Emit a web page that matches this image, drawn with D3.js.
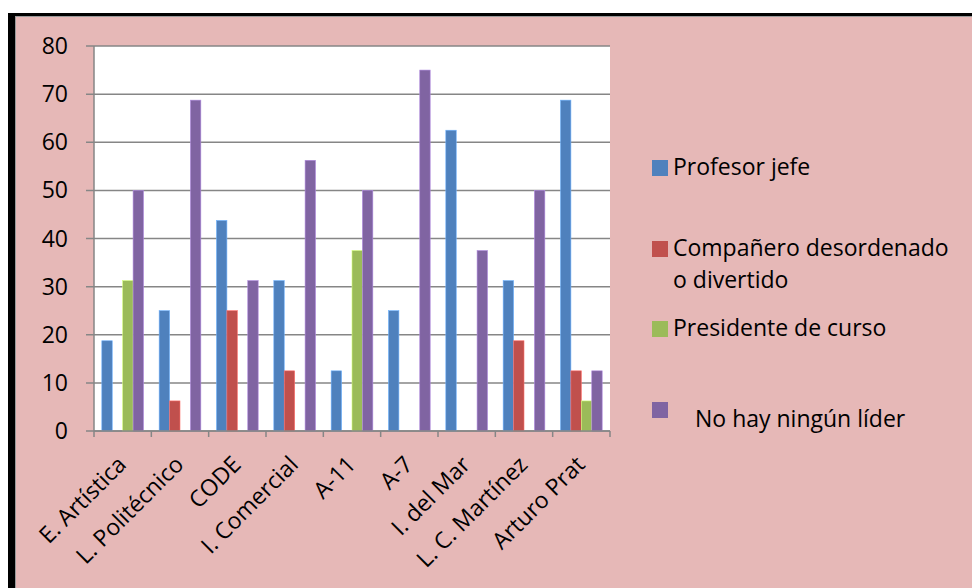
<!DOCTYPE html>
<html>
<head>
<meta charset="utf-8">
<script src="https://cdn.jsdelivr.net/npm/d3@7/dist/d3.min.js"></script>
<style>
  html, body { margin: 0; padding: 0; background: #ffffff; }
  svg { display: block; }
  text { font-family: "Open Sans", "Noto Sans", sans-serif; fill: #000; font-weight: 400; }
</style>
</head>
<body>
<svg id="chart" width="972" height="588"></svg>
<script>
const categories = ["E. Artística", "L. Politécnico", "CODE", "I. Comercial", "A-11", "A-7", "I. del Mar", "L. C. Martínez", "Arturo Prat"];
const seriesNames = ["Profesor jefe", "Compañero desordenado o divertido", "Presidente de curso", "No hay ningún líder"];
const profesorJefe = [18.75, 25, 43.75, 31.25, 12.5, 25, 62.5, 31.25, 68.75];
const companeroDesordenado = [0, 6.25, 25, 12.5, 0, 0, 0, 18.75, 12.5];
const presidenteCurso = [31.25, 0, 0, 0, 37.5, 0, 0, 0, 6.25];
const ningunLider = [50, 68.75, 31.25, 56.25, 50, 75, 37.5, 50, 12.5];
const yTicks = [0, 10, 20, 30, 40, 50, 60, 70, 80];
const colors = ["#4F81BD", "#C0504D", "#9BBB59", "#8064A2"];

const series = [profesorJefe, companeroDesordenado, presidenteCurso, ningunLider];

const svg = d3.select("#chart");
const W = 972, H = 588;
const FS = 23;

// background frame
svg.append("rect").attr("x", 0).attr("y", 0).attr("width", W).attr("height", H).attr("fill", "#ffffff");
svg.append("rect").attr("x", 8).attr("y", 13).attr("width", W - 8).attr("height", H - 13).attr("fill", "#000000");
svg.append("rect").attr("x", 15).attr("y", 16).attr("width", W - 15).attr("height", H - 16).attr("fill", "#9a9a9a");
svg.append("rect").attr("x", 16).attr("y", 17).attr("width", W - 16).attr("height", H - 17).attr("fill", "#E6B8B7");

const plot = { left: 94, top: 46, right: 610, bottom: 431 };

const x0 = d3.scaleBand().domain(categories).range([plot.left, plot.right]).padding(0);
// Excel gap width 150%: 4 bars + 1.5 bar-widths of gap per group
const x1 = d3.scaleBand().domain(d3.range(4)).range([0, x0.bandwidth()]).paddingInner(0).paddingOuter(0.75);
const y = d3.scaleLinear().domain([0, 80]).range([plot.bottom, plot.top]);

// plot area
svg.append("rect").attr("x", plot.left).attr("y", plot.top)
  .attr("width", plot.right - plot.left).attr("height", plot.bottom - plot.top).attr("fill", "#ffffff");

// gridlines
svg.append("g").selectAll("line").data(yTicks).join("line")
  .attr("x1", plot.left - 8).attr("x2", plot.right)
  .attr("y1", d => y(d)).attr("y2", d => y(d))
  .attr("stroke", "#868686").attr("stroke-width", 1.5);

// y axis line
svg.append("line").attr("x1", plot.left).attr("x2", plot.left)
  .attr("y1", plot.top).attr("y2", plot.bottom)
  .attr("stroke", "#868686").attr("stroke-width", 1.5);

// y labels
svg.append("g").selectAll("text").data(yTicks).join("text")
  .attr("x", 68).attr("y", d => y(d))
  .attr("dy", "0.35em")
  .attr("text-anchor", "end")
  .attr("font-size", FS)
  .text(d => d);

// bars
series.forEach((vals, si) => {
  svg.append("g").selectAll("rect").data(vals).join("rect")
    .attr("x", (d, ci) => x0(categories[ci]) + x1(si))
    .attr("y", d => y(d))
    .attr("width", x1.bandwidth())
    .attr("height", d => y(0) - y(d))
    .attr("fill", colors[si])
    .attr("stroke", d3.color(colors[si]).brighter(0.9))
    .attr("stroke-width", d => d > 0 ? 0.6 : 0);
});

// x axis line and ticks
svg.append("line").attr("x1", plot.left).attr("x2", plot.right)
  .attr("y1", plot.bottom).attr("y2", plot.bottom)
  .attr("stroke", "#868686").attr("stroke-width", 1.5);
const xTickPos = categories.map(c => x0(c)).concat([plot.right]);
svg.append("g").selectAll("line").data(xTickPos).join("line")
  .attr("x1", d => d).attr("x2", d => d)
  .attr("y1", plot.bottom).attr("y2", plot.bottom + 6)
  .attr("stroke", "#868686").attr("stroke-width", 1.5);

// x labels
svg.append("g").selectAll("text").data(categories).join("text")
  .attr("transform", c => `translate(${x0(c) + x0.bandwidth() / 2 + 5},${plot.bottom + 35}) rotate(-45)`)
  .attr("text-anchor", "end")
  .attr("font-size", FS)
  .text(c => c);

// legend
const legend = [
  { lines: ["Profesor jefe"], sq: 160, base: [175], tx: 673 },
  { lines: ["Compañero desordenado", "o divertido"], sq: 241, base: [256, 288], tx: 673 },
  { lines: ["Presidente de curso"], sq: 321, base: [336], tx: 673 },
  { lines: ["No hay ningún líder"], sq: 402, base: [427], tx: 695 }
];
const lg = svg.append("g");
legend.forEach((item, i) => {
  lg.append("rect").attr("x", 652).attr("y", item.sq).attr("width", 16).attr("height", 16).attr("fill", colors[i]);
  item.lines.forEach((ln, j) => {
    lg.append("text").attr("x", item.tx).attr("y", item.base[j]).attr("font-size", FS).text(ln);
  });
});
</script>
</body>
</html>
